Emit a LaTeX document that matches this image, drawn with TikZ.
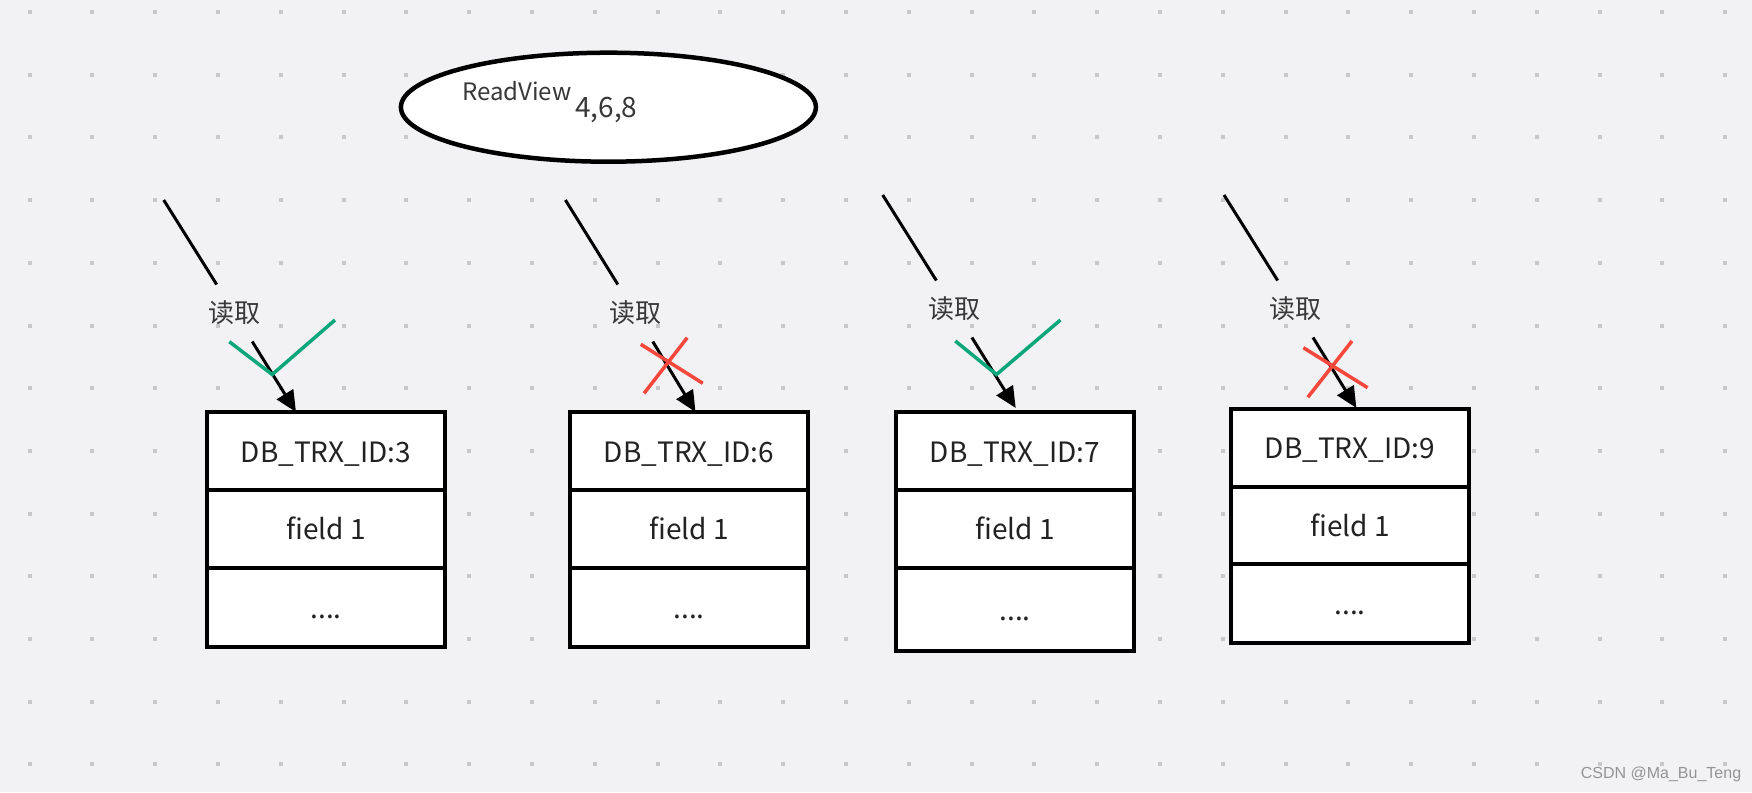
\documentclass[tikz,border=0pt]{standalone}
\usepackage{fontspec}
\newfontfamily\cjk{Noto Sans CJK SC}
\usetikzlibrary{arrows.meta}
\definecolor{bgc}{HTML}{F2F2F4}
\definecolor{dotc}{HTML}{C8C8C8}
\definecolor{okc}{HTML}{0BA67A}
\definecolor{noc}{HTML}{F5473B}
\definecolor{txt}{HTML}{222222}
\tikzset{
  cell/.style={draw=black, line width=4pt, fill=white, minimum width=238.5pt,
    inner sep=0pt, outer sep=0pt, text height=22pt, text depth=0pt,
    font=\cjk\fontsize{28}{28}\selectfont, text=txt},
  lbl/.style={minimum height=57pt, minimum width=54pt, inner sep=0pt, outer sep=0pt,
    font=\cjk\fontsize{26}{26}\selectfont, text=txt!90},
  conn/.style={line width=3pt, black},
  connarr/.style={conn, -{Triangle[length=21pt,width=19pt]}},
  okmark/.style={draw=okc, line width=3.5pt},
  nomark/.style={draw=noc, line width=3.5pt},
  view/.style={ellipse, draw=black, line width=4.5pt, fill=white, minimum width=415pt, minimum height=109pt},
}
\usetikzlibrary{shapes.geometric}
\begin{document}
\begin{tikzpicture}[x=1pt,y=-1pt]
\useasboundingbox (0,0) rectangle (1752,792);
\fill[bgc] (0,0) rectangle (1752,792);
\foreach \i in {0,...,27}{
  \foreach \j in {0,...,12}{
    \fill[dotc] ({29.6+62.8*\i-2},{12+62.7*\j-2}) rectangle +(4,4);
  }
}
% ReadView ellipse
\node[view] (rv) at (608.4,107.2) {};
\node[anchor=base west, inner sep=0pt, font=\cjk\fontsize{24}{24}\selectfont, text=txt!90] (rvt) at (462,100) {ReadView};
\node[anchor=base west, inner sep=0pt, font=\cjk\fontsize{28}{28}\selectfont, text=txt!90] (rvn) at (575,117.3) {4,6,8};

% boxes
\foreach \n/\cx/\ty/\id/\hc in {1/326/412.3/3/79, 2/689.1/412.3/6/79, 3/1015/412.3/7/83, 4/1350/409/9/79}{
  \node[cell, minimum height=77.7pt, anchor=north] (b\n a) at (\cx,\ty) {DB\_TRX\_ID:\id};
  \node[cell, minimum height=77.7pt, anchor=north] (b\n b) at (b\n a.south) {field 1};
  \node[cell, minimum height=\hc pt, anchor=north] (b\n c) at (b\n b.south) {....};
}

% connectors
\coordinate (s1) at (163.7,200);
\coordinate (s2) at (565.4,200);
\coordinate (s3) at (882.7,195);
\coordinate (s4) at (1224,195);
\coordinate (t1) at (296,412);
\coordinate (t2) at (695.5,412);
\coordinate (t3) at (1015.7,408);
\coordinate (t4) at (1356.4,408);
\node[lbl] (l1) at (234.5,313) {读取};
\node[lbl] (l2) at (635.5,313) {读取};
\node[lbl] (l3) at (954.2,309) {读取};
\node[lbl] (l4) at (1295.5,309) {读取};
\foreach \k in {1,2,3,4}{
  \draw[conn] (s\k) -- (l\k);
  \draw[connarr] (l\k) -- (t\k);
}

% check marks
\draw[okmark] (229.3,341.7) -- (272.2,374.5) -- (335,320);
\draw[okmark] (955.3,341) -- (996.5,374.5) -- (1060.4,320);
% crosses
\draw[nomark] (640.8,344.3) -- (702.8,383.3);
\draw[nomark] (687.2,337.7) -- (644.1,393.3);
\draw[nomark] (1303.4,347.7) -- (1367.6,387.7);
\draw[nomark] (1352,341) -- (1307.8,397.3);

% watermark
\node[anchor=center, inner sep=0pt, font=\fontspec{Liberation Sans}\fontsize{16}{16}\selectfont, text=black!42] (wm) at (1661,774) {CSDN @Ma\_Bu\_Teng};
\end{tikzpicture}
\end{document}
